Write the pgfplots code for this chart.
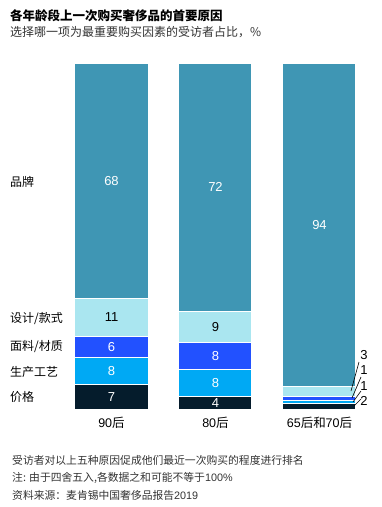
\documentclass[border=0pt]{standalone}
\usepackage{fontspec}
\setmainfont{Liberation Sans}
\newfontfamily\cjk{Noto Sans CJK SC}
\usepackage{pgfplots}
\pgfplotsset{compat=1.18}
\definecolor{cPrice}{HTML}{051C2C}
\definecolor{cProd}{HTML}{00A9F4}
\definecolor{cMat}{HTML}{2251FF}
\definecolor{cDes}{HTML}{AAE6F0}
\definecolor{cBrand}{HTML}{3F96B4}
\definecolor{cNote}{HTML}{333333}
\newcommand{\fsz}[1]{\fontsize{#1}{#1}\selectfont}
\begin{document}
\begin{tikzpicture}[x=1pt,y=1pt]
\useasboundingbox (0,0) rectangle (382,-507);
\begin{axis}[at={(75.1pt,-409pt)}, anchor=south west, scale only axis,
  width=280.8pt, height=346pt, xmin=-0.35, xmax=2.35, ymin=0, ymax=100,
  ybar stacked, bar width=73pt, hide axis, clip=false]
\addplot[fill=cPrice, draw=white, line width=1pt] coordinates {(0,7) (1,3.5) (2,1.5)};
\addplot[fill=cProd, draw=white, line width=1pt] coordinates {(0,8) (1,7.8) (2,1)};
\addplot[fill=cMat, draw=white, line width=1pt] coordinates {(0,6) (1,7.9) (2,1)};
\addplot[fill=cDes, draw=white, line width=1pt] coordinates {(0,11) (1,8.9) (2,3)};
\addplot[fill=cBrand, draw=white, line width=1pt] coordinates {(0,68) (1,71.9) (2,93.5)};
\coordinate (a1) at (axis cs:0,3.5);
\coordinate (a2) at (axis cs:0,11);
\coordinate (a3) at (axis cs:0,18);
\coordinate (a4) at (axis cs:0,26.5);
\coordinate (a5) at (axis cs:0,66);
\coordinate (b1) at (axis cs:1,1.75);
\coordinate (b2) at (axis cs:1,7.4);
\coordinate (b3) at (axis cs:1,15.25);
\coordinate (b4) at (axis cs:1,23.65);
\coordinate (b5) at (axis cs:1,64.05);
\coordinate (c5) at (axis cs:2,53.25);
\coordinate (x0) at (axis cs:0,0);
\coordinate (x1) at (axis cs:1,0);
\coordinate (x2) at (axis cs:2,0);
\end{axis}
% value labels
\node[white, font=\fsz{13}] at (a1) {7};
\node[white, font=\fsz{13}] at (a2) {8};
\node[white, font=\fsz{13}] at (a3) {6};
\node[black, font=\fsz{13}] at (a4) {11};
\node[white, font=\fsz{13}] at (a5) {68};
\node[white, font=\fsz{13}] at (b1) {4};
\node[white, font=\fsz{13}] at (b2) {8};
\node[white, font=\fsz{13}] at (b3) {8};
\node[black, font=\fsz{13}] at (b4) {9};
\node[white, font=\fsz{13}] at (b5) {72};
\node[white, font=\fsz{13}] at (c5) {94};
% x labels
\node[font=\fsz{12.5}, yshift=-14pt] at (x0) {90{\cjk 后}};
\node[font=\fsz{12.5}, yshift=-14pt] at (x1) {80{\cjk 后}};
\node[font=\fsz{12.5}, yshift=-14pt] at (x2) {65{\cjk 后和}70{\cjk 后}};
% leader lines
\draw[black, line width=0.6pt] (351,-391) -- (359,-362);
\draw[black, line width=0.6pt] (352,-398) -- (361,-377);
\draw[black, line width=0.6pt] (353,-402) -- (361,-391);
\draw[black, line width=0.6pt] (354,-406) -- (361,-399);
\node[font=\fsz{13}] at (364,-355) {3};
\node[font=\fsz{13}] at (364,-370) {1};
\node[font=\fsz{13}] at (364,-386) {1};
\node[font=\fsz{13}] at (364,-401) {2};
% category labels
\node[anchor=west, inner sep=0pt, font=\cjk\fsz{12}] at (10,-182) {品牌};
\node[anchor=west, inner sep=0pt, font=\cjk\fsz{12}] at (10,-319) {设计/款式};
\node[anchor=west, inner sep=0pt, font=\cjk\fsz{12}] at (10,-347) {面料/材质};
\node[anchor=west, inner sep=0pt, font=\cjk\fsz{12}] at (10,-372) {生产工艺};
\node[anchor=west, inner sep=0pt, font=\cjk\fsz{12}] at (10,-397) {价格};
% titles
\node[anchor=west, inner sep=0pt, font=\cjk\bfseries\fsz{12.5}] at (10,-15.5) {各年龄段上一次购买奢侈品的首要原因};
\node[anchor=west, inner sep=0pt, font=\cjk\fsz{12}, text=cNote] at (10,-32) {选择哪一项为最重要购买因素的受访者占比，\%};
% notes
\node[anchor=west, inner sep=0pt, font=\cjk\fsz{10.8}, text=cNote] at (12,-460) {受访者对以上五种原因促成他们最近一次购买的程度进行排名};
\node[anchor=west, inner sep=0pt, font=\cjk\fsz{10.8}, text=cNote] at (12,-478) {注: 由于四舍五入,各数据之和可能不等于{\rmfamily 100\%}};
\node[anchor=west, inner sep=0pt, font=\cjk\fsz{10.8}, text=cNote] at (12,-495) {资料来源：麦肯锡中国奢侈品报告{\rmfamily 2019}};
\end{tikzpicture}
\end{document}
